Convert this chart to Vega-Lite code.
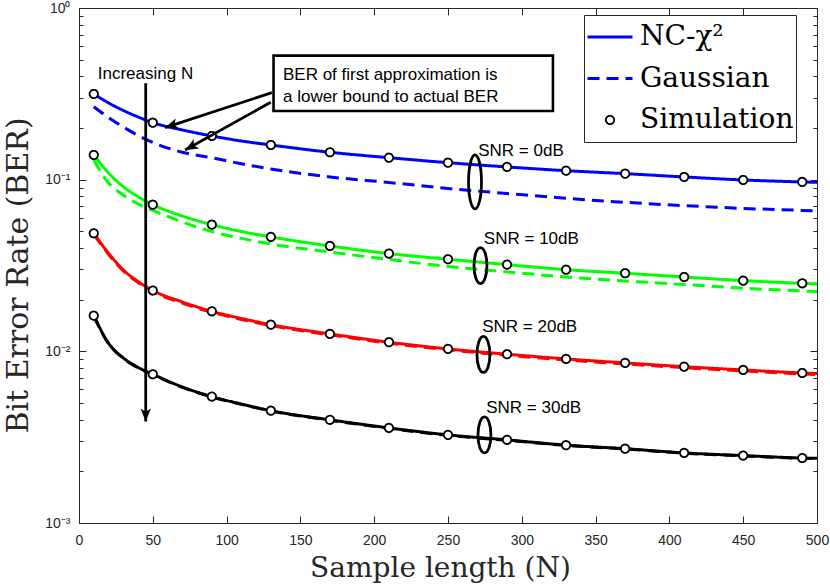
{
  "$schema": "https://vega.github.io/schema/vega-lite/v6.json",
  "width": 738,
  "height": 515,
  "autosize": {"type": "none"},
  "padding": {"left": 79, "top": 8, "right": 13, "bottom": 64},
  "background": "white",
  "config": {"view": {"stroke": null}},
  "datasets": {
    "lines": [
      {"snr":"0dB","model":"NC-χ²","N":10,"ber":0.3155},{"snr":"0dB","model":"NC-χ²","N":20,"ber":0.280},{"snr":"0dB","model":"NC-χ²","N":30,"ber":0.253},{"snr":"0dB","model":"NC-χ²","N":40,"ber":0.232},{"snr":"0dB","model":"NC-χ²","N":50,"ber":0.2148},{"snr":"0dB","model":"NC-χ²","N":70,"ber":0.1948},{"snr":"0dB","model":"NC-χ²","N":90,"ber":0.1797},{"snr":"0dB","model":"NC-χ²","N":110,"ber":0.168},{"snr":"0dB","model":"NC-χ²","N":130,"ber":0.1592},{"snr":"0dB","model":"NC-χ²","N":170,"ber":0.1444},{"snr":"0dB","model":"NC-χ²","N":210,"ber":0.1343},{"snr":"0dB","model":"NC-χ²","N":250,"ber":0.1256},{"snr":"0dB","model":"NC-χ²","N":290,"ber":0.1186},{"snr":"0dB","model":"NC-χ²","N":330,"ber":0.1128},{"snr":"0dB","model":"NC-χ²","N":370,"ber":0.1084},{"snr":"0dB","model":"NC-χ²","N":410,"ber":0.1037},{"snr":"0dB","model":"NC-χ²","N":450,"ber":0.0996},{"snr":"0dB","model":"NC-χ²","N":490,"ber":0.0970},{"snr":"0dB","model":"NC-χ²","N":500,"ber":0.0965},
      {"snr":"10dB","model":"NC-χ²","N":10,"ber":0.1393},{"snr":"10dB","model":"NC-χ²","N":20,"ber":0.1094},{"snr":"10dB","model":"NC-χ²","N":30,"ber":0.0910},{"snr":"10dB","model":"NC-χ²","N":40,"ber":0.0796},{"snr":"10dB","model":"NC-χ²","N":50,"ber":0.0715},{"snr":"10dB","model":"NC-χ²","N":70,"ber":0.0614},{"snr":"10dB","model":"NC-χ²","N":90,"ber":0.0547},{"snr":"10dB","model":"NC-χ²","N":110,"ber":0.0499},{"snr":"10dB","model":"NC-χ²","N":130,"ber":0.0464},{"snr":"10dB","model":"NC-χ²","N":170,"ber":0.0411},{"snr":"10dB","model":"NC-χ²","N":210,"ber":0.0371},{"snr":"10dB","model":"NC-χ²","N":250,"ber":0.0344},{"snr":"10dB","model":"NC-χ²","N":290,"ber":0.0320},{"snr":"10dB","model":"NC-χ²","N":330,"ber":0.0299},{"snr":"10dB","model":"NC-χ²","N":370,"ber":0.0285},{"snr":"10dB","model":"NC-χ²","N":410,"ber":0.0271},{"snr":"10dB","model":"NC-χ²","N":450,"ber":0.0258},{"snr":"10dB","model":"NC-χ²","N":490,"ber":0.0249},{"snr":"10dB","model":"NC-χ²","N":500,"ber":0.0247},
      {"snr":"20dB","model":"NC-χ²","N":10,"ber":0.0487},{"snr":"20dB","model":"NC-χ²","N":20,"ber":0.0373},{"snr":"20dB","model":"NC-χ²","N":30,"ber":0.0298},{"snr":"20dB","model":"NC-χ²","N":40,"ber":0.0255},{"snr":"20dB","model":"NC-χ²","N":50,"ber":0.0226},{"snr":"20dB","model":"NC-χ²","N":70,"ber":0.0194},{"snr":"20dB","model":"NC-χ²","N":90,"ber":0.0171},{"snr":"20dB","model":"NC-χ²","N":110,"ber":0.01554},{"snr":"20dB","model":"NC-χ²","N":130,"ber":0.0143},{"snr":"20dB","model":"NC-χ²","N":170,"ber":0.01263},{"snr":"20dB","model":"NC-χ²","N":210,"ber":0.0113},{"snr":"20dB","model":"NC-χ²","N":250,"ber":0.01033},{"snr":"20dB","model":"NC-χ²","N":290,"ber":0.00962},{"snr":"20dB","model":"NC-χ²","N":330,"ber":0.00903},{"snr":"20dB","model":"NC-χ²","N":370,"ber":0.00856},{"snr":"20dB","model":"NC-χ²","N":410,"ber":0.00814},{"snr":"20dB","model":"NC-χ²","N":450,"ber":0.00779},{"snr":"20dB","model":"NC-χ²","N":490,"ber":0.00748},{"snr":"20dB","model":"NC-χ²","N":500,"ber":0.00742},
      {"snr":"30dB","model":"NC-χ²","N":10,"ber":0.01614},{"snr":"30dB","model":"NC-χ²","N":20,"ber":0.01115},{"snr":"30dB","model":"NC-χ²","N":30,"ber":0.00915},{"snr":"30dB","model":"NC-χ²","N":40,"ber":0.00806},{"snr":"30dB","model":"NC-χ²","N":50,"ber":0.00735},{"snr":"30dB","model":"NC-χ²","N":70,"ber":0.00620},{"snr":"30dB","model":"NC-χ²","N":90,"ber":0.00545},{"snr":"30dB","model":"NC-χ²","N":110,"ber":0.00493},{"snr":"30dB","model":"NC-χ²","N":130,"ber":0.00451},{"snr":"30dB","model":"NC-χ²","N":170,"ber":0.00399},{"snr":"30dB","model":"NC-χ²","N":210,"ber":0.00358},{"snr":"30dB","model":"NC-χ²","N":250,"ber":0.00326},{"snr":"30dB","model":"NC-χ²","N":290,"ber":0.00305},{"snr":"30dB","model":"NC-χ²","N":330,"ber":0.00284},{"snr":"30dB","model":"NC-χ²","N":370,"ber":0.00271},{"snr":"30dB","model":"NC-χ²","N":410,"ber":0.00256},{"snr":"30dB","model":"NC-χ²","N":450,"ber":0.00247},{"snr":"30dB","model":"NC-χ²","N":490,"ber":0.00239},{"snr":"30dB","model":"NC-χ²","N":500,"ber":0.00238},
      {"snr":"0dB","model":"Gaussian","N":10,"ber":0.2661},{"snr":"0dB","model":"Gaussian","N":20,"ber":0.2303},{"snr":"0dB","model":"Gaussian","N":30,"ber":0.2027},{"snr":"0dB","model":"Gaussian","N":40,"ber":0.1809},{"snr":"0dB","model":"Gaussian","N":50,"ber":0.1647},{"snr":"0dB","model":"Gaussian","N":70,"ber":0.1444},{"snr":"0dB","model":"Gaussian","N":90,"ber":0.1341},{"snr":"0dB","model":"Gaussian","N":110,"ber":0.1238},{"snr":"0dB","model":"Gaussian","N":130,"ber":0.1154},{"snr":"0dB","model":"Gaussian","N":170,"ber":0.1037},{"snr":"0dB","model":"Gaussian","N":210,"ber":0.0963},{"snr":"0dB","model":"Gaussian","N":250,"ber":0.0888},{"snr":"0dB","model":"Gaussian","N":290,"ber":0.0831},{"snr":"0dB","model":"Gaussian","N":330,"ber":0.0779},{"snr":"0dB","model":"Gaussian","N":370,"ber":0.0738},{"snr":"0dB","model":"Gaussian","N":410,"ber":0.0706},{"snr":"0dB","model":"Gaussian","N":450,"ber":0.0680},{"snr":"0dB","model":"Gaussian","N":490,"ber":0.0662},{"snr":"0dB","model":"Gaussian","N":500,"ber":0.0657},
      {"snr":"10dB","model":"Gaussian","N":10,"ber":0.1302},{"snr":"10dB","model":"Gaussian","N":20,"ber":0.0957},{"snr":"10dB","model":"Gaussian","N":30,"ber":0.0814},{"snr":"10dB","model":"Gaussian","N":40,"ber":0.0722},{"snr":"10dB","model":"Gaussian","N":50,"ber":0.0662},{"snr":"10dB","model":"Gaussian","N":70,"ber":0.0567},{"snr":"10dB","model":"Gaussian","N":90,"ber":0.0498},{"snr":"10dB","model":"Gaussian","N":110,"ber":0.0455},{"snr":"10dB","model":"Gaussian","N":130,"ber":0.0422},{"snr":"10dB","model":"Gaussian","N":170,"ber":0.0379},{"snr":"10dB","model":"Gaussian","N":210,"ber":0.0343},{"snr":"10dB","model":"Gaussian","N":250,"ber":0.0312},{"snr":"10dB","model":"Gaussian","N":290,"ber":0.0290},{"snr":"10dB","model":"Gaussian","N":330,"ber":0.0271},{"snr":"10dB","model":"Gaussian","N":370,"ber":0.0257},{"snr":"10dB","model":"Gaussian","N":410,"ber":0.0245},{"snr":"10dB","model":"Gaussian","N":450,"ber":0.0233},{"snr":"10dB","model":"Gaussian","N":490,"ber":0.0225},{"snr":"10dB","model":"Gaussian","N":500,"ber":0.0223},
      {"snr":"20dB","model":"Gaussian","N":10,"ber":0.0481},{"snr":"20dB","model":"Gaussian","N":20,"ber":0.0368},{"snr":"20dB","model":"Gaussian","N":30,"ber":0.0294},{"snr":"20dB","model":"Gaussian","N":40,"ber":0.0252},{"snr":"20dB","model":"Gaussian","N":50,"ber":0.0223},{"snr":"20dB","model":"Gaussian","N":70,"ber":0.0191},{"snr":"20dB","model":"Gaussian","N":90,"ber":0.01688},{"snr":"20dB","model":"Gaussian","N":110,"ber":0.01534},{"snr":"20dB","model":"Gaussian","N":130,"ber":0.01411},{"snr":"20dB","model":"Gaussian","N":170,"ber":0.01247},{"snr":"20dB","model":"Gaussian","N":210,"ber":0.01115},{"snr":"20dB","model":"Gaussian","N":250,"ber":0.01020},{"snr":"20dB","model":"Gaussian","N":290,"ber":0.00950},{"snr":"20dB","model":"Gaussian","N":330,"ber":0.00891},{"snr":"20dB","model":"Gaussian","N":370,"ber":0.00845},{"snr":"20dB","model":"Gaussian","N":410,"ber":0.00803},{"snr":"20dB","model":"Gaussian","N":450,"ber":0.00769},{"snr":"20dB","model":"Gaussian","N":490,"ber":0.00738},{"snr":"20dB","model":"Gaussian","N":500,"ber":0.00732},
      {"snr":"30dB","model":"Gaussian","N":10,"ber":0.01606},{"snr":"30dB","model":"Gaussian","N":20,"ber":0.01109},{"snr":"30dB","model":"Gaussian","N":30,"ber":0.00910},{"snr":"30dB","model":"Gaussian","N":40,"ber":0.00802},{"snr":"30dB","model":"Gaussian","N":50,"ber":0.00731},{"snr":"30dB","model":"Gaussian","N":70,"ber":0.00617},{"snr":"30dB","model":"Gaussian","N":90,"ber":0.00542},{"snr":"30dB","model":"Gaussian","N":110,"ber":0.00491},{"snr":"30dB","model":"Gaussian","N":130,"ber":0.00449},{"snr":"30dB","model":"Gaussian","N":170,"ber":0.00397},{"snr":"30dB","model":"Gaussian","N":210,"ber":0.00356},{"snr":"30dB","model":"Gaussian","N":250,"ber":0.00324},{"snr":"30dB","model":"Gaussian","N":290,"ber":0.00303},{"snr":"30dB","model":"Gaussian","N":330,"ber":0.00283},{"snr":"30dB","model":"Gaussian","N":370,"ber":0.00270},{"snr":"30dB","model":"Gaussian","N":410,"ber":0.00255},{"snr":"30dB","model":"Gaussian","N":450,"ber":0.00246},{"snr":"30dB","model":"Gaussian","N":490,"ber":0.00238},{"snr":"30dB","model":"Gaussian","N":500,"ber":0.00237}
    ],
    "sim": [
      {"snr":"0dB","model":"Simulation","N":10,"ber":0.3155},{"snr":"0dB","model":"Simulation","N":50,"ber":0.2148},{"snr":"0dB","model":"Simulation","N":90,"ber":0.1797},{"snr":"0dB","model":"Simulation","N":130,"ber":0.1592},{"snr":"0dB","model":"Simulation","N":170,"ber":0.1444},{"snr":"0dB","model":"Simulation","N":210,"ber":0.1343},{"snr":"0dB","model":"Simulation","N":250,"ber":0.1256},{"snr":"0dB","model":"Simulation","N":290,"ber":0.1186},{"snr":"0dB","model":"Simulation","N":330,"ber":0.1128},{"snr":"0dB","model":"Simulation","N":370,"ber":0.1084},{"snr":"0dB","model":"Simulation","N":410,"ber":0.1037},{"snr":"0dB","model":"Simulation","N":450,"ber":0.0996},{"snr":"0dB","model":"Simulation","N":490,"ber":0.0970},
      {"snr":"10dB","model":"Simulation","N":10,"ber":0.1393},{"snr":"10dB","model":"Simulation","N":50,"ber":0.0715},{"snr":"10dB","model":"Simulation","N":90,"ber":0.0547},{"snr":"10dB","model":"Simulation","N":130,"ber":0.0464},{"snr":"10dB","model":"Simulation","N":170,"ber":0.0411},{"snr":"10dB","model":"Simulation","N":210,"ber":0.0371},{"snr":"10dB","model":"Simulation","N":250,"ber":0.0344},{"snr":"10dB","model":"Simulation","N":290,"ber":0.0320},{"snr":"10dB","model":"Simulation","N":330,"ber":0.0299},{"snr":"10dB","model":"Simulation","N":370,"ber":0.0285},{"snr":"10dB","model":"Simulation","N":410,"ber":0.0271},{"snr":"10dB","model":"Simulation","N":450,"ber":0.0258},{"snr":"10dB","model":"Simulation","N":490,"ber":0.0249},
      {"snr":"20dB","model":"Simulation","N":10,"ber":0.0487},{"snr":"20dB","model":"Simulation","N":50,"ber":0.0226},{"snr":"20dB","model":"Simulation","N":90,"ber":0.0171},{"snr":"20dB","model":"Simulation","N":130,"ber":0.0143},{"snr":"20dB","model":"Simulation","N":170,"ber":0.01263},{"snr":"20dB","model":"Simulation","N":210,"ber":0.0113},{"snr":"20dB","model":"Simulation","N":250,"ber":0.01033},{"snr":"20dB","model":"Simulation","N":290,"ber":0.00962},{"snr":"20dB","model":"Simulation","N":330,"ber":0.00903},{"snr":"20dB","model":"Simulation","N":370,"ber":0.00856},{"snr":"20dB","model":"Simulation","N":410,"ber":0.00814},{"snr":"20dB","model":"Simulation","N":450,"ber":0.00779},{"snr":"20dB","model":"Simulation","N":490,"ber":0.00748},
      {"snr":"30dB","model":"Simulation","N":10,"ber":0.01614},{"snr":"30dB","model":"Simulation","N":50,"ber":0.00735},{"snr":"30dB","model":"Simulation","N":90,"ber":0.00545},{"snr":"30dB","model":"Simulation","N":130,"ber":0.00451},{"snr":"30dB","model":"Simulation","N":170,"ber":0.00399},{"snr":"30dB","model":"Simulation","N":210,"ber":0.00358},{"snr":"30dB","model":"Simulation","N":250,"ber":0.00326},{"snr":"30dB","model":"Simulation","N":290,"ber":0.00305},{"snr":"30dB","model":"Simulation","N":330,"ber":0.00284},{"snr":"30dB","model":"Simulation","N":370,"ber":0.00271},{"snr":"30dB","model":"Simulation","N":410,"ber":0.00256},{"snr":"30dB","model":"Simulation","N":450,"ber":0.00247},{"snr":"30dB","model":"Simulation","N":490,"ber":0.00239}
    ],
    "box": [{"N":131.8,"N2":321.1,"ber":0.5276,"ber2":0.2513}],
    "arrows": [
      {"id":"up","N":130.7,"ber":0.3211,"N2":58.3,"ber2":0.2009},
      {"id":"low","N":129.9,"ber":0.2823,"N2":71.9,"ber2":0.1489},
      {"id":"vert","N":45.2,"ber":0.364,"N2":45.2,"ber2":0.003896}
    ],
    "ellipses": [
      {"snr":"0dB","N":268.3,"ber":0.0970},
      {"snr":"10dB","N":272,"ber":0.0316},
      {"snr":"20dB","N":274,"ber":0.00959},
      {"snr":"30dB","N":274.7,"ber":0.00326}
    ],
    "notes": [
      {"N":12.7,"ber":0.3843,"label":"Increasing N"},
      {"N":138.2,"ber":0.3808,"label":"BER of first approximation is"},
      {"N":138.2,"ber":0.2823,"label":"a lower bound to actual BER"},
      {"N":270.5,"ber":0.1374,"label":"SNR = 0dB"},
      {"N":274.3,"ber":0.0422,"label":"SNR = 10dB"},
      {"N":273.2,"ber":0.01292,"label":"SNR = 20dB"},
      {"N":275.9,"ber":0.004359,"label":"SNR = 30dB"}
    ]
  },
  "resolve": {"axis": {"x": "independent", "y": "independent"}},
  "layer": [
    {
      "data": {"name": "lines"},
      "mark": {"type": "line", "strokeWidth": 3, "interpolate": "monotone", "strokeCap": "butt"},
      "encoding": {
        "x": {"field": "N", "type": "quantitative", "scale": {"domain": [0, 500], "nice": false, "zero": false},
          "axis": {"orient": "bottom", "values": [0,50,100,150,200,250,300,350,400,450,500], "tickSize": -7, "labelPadding": 17,
            "labelFont": "Liberation Sans", "labelFontSize": 14, "labelColor": "#262626", "labelFlush": false, "labelOverlap": false,
            "grid": false, "domainColor": "#262626", "tickColor": "#262626",
            "title": "Sample length (N)", "titleFont": "DejaVu Serif", "titleFontSize": 28, "titleFontWeight": "normal", "titleColor": "#262626",
            "titleX": 361, "titleY": 53, "titleAlign": "center", "titleBaseline": "alphabetic"}},
        "y": {"field": "ber", "type": "quantitative", "scale": {"type": "log", "domain": [0.001, 1], "nice": false},
          "axis": {"orient": "left", "values": [0.001,0.002,0.003,0.004,0.005,0.006,0.007,0.008,0.009,0.01,0.02,0.03,0.04,0.05,0.06,0.07,0.08,0.09,0.1,0.2,0.3,0.4,0.5,0.6,0.7,0.8,0.9,1],
            "tickSize": {"condition": {"test": "datum.value == 1 || datum.value == 0.1 || datum.value == 0.01 || datum.value == 0.001", "value": -7}, "value": -4},
            "labelPadding": 16, "labelExpr": "datum.value == 1 ? '10⁰' : datum.value == 0.1 ? '10⁻¹' : datum.value == 0.01 ? '10⁻²' : datum.value == 0.001 ? '10⁻³' : ''",
            "labelFont": "Liberation Sans", "labelFontSize": 14, "labelColor": "#262626", "labelFlush": false, "labelOverlap": false, "labelBaseline": "middle",
            "grid": false, "domainColor": "#262626", "tickColor": "#262626",
            "title": "Bit Error Rate (BER)", "titleFont": "DejaVu Serif", "titleFontSize": 30, "titleFontWeight": "normal", "titleColor": "#262626",
            "titleAngle": -90, "titleX": -52, "titleY": 267, "titleAlign": "center", "titleBaseline": "alphabetic"}},
        "color": {"field": "snr", "type": "nominal", "scale": {"domain": ["0dB","10dB","20dB","30dB"], "range": ["#0000ff","#00ff00","#ff0000","#000000"]}, "legend": null},
        "strokeDash": {"field": "model", "type": "nominal", "scale": {"domain": ["NC-χ²","Gaussian","Simulation"], "range": [[1,0],[12,7],[1,0]]},
          "legend": {"title": null, "orient": "none", "legendX": 505, "legendY": 7, "padding": 2, "clipHeight": 40, "rowPadding": 1.5,
            "symbolSize": 2025, "symbolOffset": 10, "labelOffset": 16, "labelFont": "DejaVu Serif", "labelFontSize": 28, "labelColor": "black",
            "labelLimit": 400, "labelBaseline": "middle", "strokeColor": "#262626", "fillColor": "white",
            "encode": {"symbols": {"update": {
              "shape": {"signal": "datum.value === 'Simulation' ? 'circle' : 'stroke'"},
              "size": {"signal": "datum.value === 'Simulation' ? 70 : 2025"},
              "stroke": {"signal": "datum.value === 'Simulation' ? 'black' : '#0000ff'"},
              "strokeWidth": {"signal": "datum.value === 'Simulation' ? 1.8 : 3"},
              "fill": {"value": "white"},
              "opacity": {"value": 1}
            }}}}}
      }
    },
    {
      "data": {"name": "sim"},
      "mark": {"type": "point", "shape": "circle", "size": 70, "fill": "white", "stroke": "black", "strokeWidth": 1.8, "opacity": 1},
      "encoding": {
        "x": {"field": "N", "type": "quantitative", "scale": {"domain": [0, 500], "nice": false, "zero": false},
          "axis": {"orient": "top", "values": [0,50,100,150,200,250,300,350,400,450,500], "tickSize": -7, "labels": false, "title": null,
            "grid": false, "domainColor": "#262626", "tickColor": "#262626"}},
        "y": {"field": "ber", "type": "quantitative", "scale": {"type": "log", "domain": [0.001, 1], "nice": false},
          "axis": {"orient": "right", "values": [0.001,0.002,0.003,0.004,0.005,0.006,0.007,0.008,0.009,0.01,0.02,0.03,0.04,0.05,0.06,0.07,0.08,0.09,0.1,0.2,0.3,0.4,0.5,0.6,0.7,0.8,0.9,1],
            "tickSize": {"condition": {"test": "datum.value == 1 || datum.value == 0.1 || datum.value == 0.01 || datum.value == 0.001", "value": -7}, "value": -4},
            "labels": false, "title": null, "grid": false, "domainColor": "#262626", "tickColor": "#262626"}},
        "strokeDash": {"field": "model", "type": "nominal", "scale": {"domain": ["NC-χ²","Gaussian","Simulation"], "range": [[1,0],[12,7],[1,0]]},
          "legend": {"title": null, "orient": "none", "legendX": 505, "legendY": 7, "padding": 2, "clipHeight": 40, "rowPadding": 1.5,
            "symbolSize": 2025, "symbolOffset": 10, "labelOffset": 16, "labelFont": "DejaVu Serif", "labelFontSize": 28, "labelColor": "black",
            "labelLimit": 400, "labelBaseline": "middle", "strokeColor": "#262626", "fillColor": "white",
            "encode": {"symbols": {"update": {
              "shape": {"signal": "datum.value === 'Simulation' ? 'circle' : 'stroke'"},
              "size": {"signal": "datum.value === 'Simulation' ? 70 : 2025"},
              "stroke": {"signal": "datum.value === 'Simulation' ? 'black' : '#0000ff'"},
              "strokeWidth": {"signal": "datum.value === 'Simulation' ? 1.8 : 3"},
              "fill": {"value": "white"},
              "opacity": {"value": 1}
            }}}}}
      }
    },
    {
      "data": {"name": "box"},
      "mark": {"type": "rect", "fill": "white", "stroke": "black", "strokeWidth": 2.6},
      "encoding": {
        "x": {"field": "N", "type": "quantitative", "scale": {"domain": [0, 500], "nice": false, "zero": false}, "axis": null},
        "x2": {"field": "N2"},
        "y": {"field": "ber", "type": "quantitative", "scale": {"type": "log", "domain": [0.001, 1], "nice": false}, "axis": null},
        "y2": {"field": "ber2"}
      }
    },
    {
      "data": {"name": "arrows"},
      "mark": {"type": "rule", "stroke": "black", "strokeWidth": 2.8, "strokeCap": "butt"},
      "encoding": {
        "x": {"field": "N", "type": "quantitative", "scale": {"domain": [0, 500], "nice": false, "zero": false}, "axis": null},
        "x2": {"field": "N2"},
        "y": {"field": "ber", "type": "quantitative", "scale": {"type": "log", "domain": [0.001, 1], "nice": false}, "axis": null},
        "y2": {"field": "ber2"}
      }
    },
    {
      "data": {"name": "arrows"},
      "transform": [{"filter": "datum.id == 'up'"}],
      "mark": {"type": "point", "shape": "M0,0L0.42,1L0,0.75L-0.42,1Z", "size": 676, "angle": 252, "filled": true, "fill": "black", "stroke": null, "opacity": 1},
      "encoding": {
        "x": {"field": "N2", "type": "quantitative", "scale": {"domain": [0, 500], "nice": false, "zero": false}, "axis": null},
        "y": {"field": "ber2", "type": "quantitative", "scale": {"type": "log", "domain": [0.001, 1], "nice": false}, "axis": null}
      }
    },
    {
      "data": {"name": "arrows"},
      "transform": [{"filter": "datum.id == 'low'"}],
      "mark": {"type": "point", "shape": "M0,0L0.42,1L0,0.75L-0.42,1Z", "size": 676, "angle": 241, "filled": true, "fill": "black", "stroke": null, "opacity": 1},
      "encoding": {
        "x": {"field": "N2", "type": "quantitative", "scale": {"domain": [0, 500], "nice": false, "zero": false}, "axis": null},
        "y": {"field": "ber2", "type": "quantitative", "scale": {"type": "log", "domain": [0.001, 1], "nice": false}, "axis": null}
      }
    },
    {
      "data": {"name": "arrows"},
      "transform": [{"filter": "datum.id == 'vert'"}],
      "mark": {"type": "point", "shape": "M0,0L0.4,1L0,0.75L-0.4,1Z", "size": 676, "angle": 180, "filled": true, "fill": "black", "stroke": null, "opacity": 1},
      "encoding": {
        "x": {"field": "N2", "type": "quantitative", "scale": {"domain": [0, 500], "nice": false, "zero": false}, "axis": null},
        "y": {"field": "ber2", "type": "quantitative", "scale": {"type": "log", "domain": [0.001, 1], "nice": false}, "axis": null}
      }
    },
    {
      "data": {"name": "ellipses"},
      "transform": [{"filter": "datum.snr == '0dB'"}],
      "mark": {"type": "point", "shape": "M0,-1A0.24,1,0,1,1,0,1A0.24,1,0,1,1,0,-1Z", "size": 2916, "filled": false, "stroke": "black", "strokeWidth": 2.8, "opacity": 1},
      "encoding": {
        "x": {"field": "N", "type": "quantitative", "scale": {"domain": [0, 500], "nice": false, "zero": false}, "axis": null},
        "y": {"field": "ber", "type": "quantitative", "scale": {"type": "log", "domain": [0.001, 1], "nice": false}, "axis": null}
      }
    },
    {
      "data": {"name": "ellipses"},
      "transform": [{"filter": "datum.snr != '0dB'"}],
      "mark": {"type": "point", "shape": "M0,-1A0.36,1,0,1,1,0,1A0.36,1,0,1,1,0,-1Z", "size": 1296, "filled": false, "stroke": "black", "strokeWidth": 2.8, "opacity": 1},
      "encoding": {
        "x": {"field": "N", "type": "quantitative", "scale": {"domain": [0, 500], "nice": false, "zero": false}, "axis": null},
        "y": {"field": "ber", "type": "quantitative", "scale": {"type": "log", "domain": [0.001, 1], "nice": false}, "axis": null}
      }
    },
    {
      "data": {"name": "notes"},
      "mark": {"type": "text", "font": "Liberation Sans", "fontSize": 17, "align": "left", "baseline": "alphabetic", "color": "black"},
      "encoding": {
        "x": {"field": "N", "type": "quantitative", "scale": {"domain": [0, 500], "nice": false, "zero": false}, "axis": null},
        "y": {"field": "ber", "type": "quantitative", "scale": {"type": "log", "domain": [0.001, 1], "nice": false}, "axis": null},
        "text": {"field": "label"}
      }
    }
  ]
}
